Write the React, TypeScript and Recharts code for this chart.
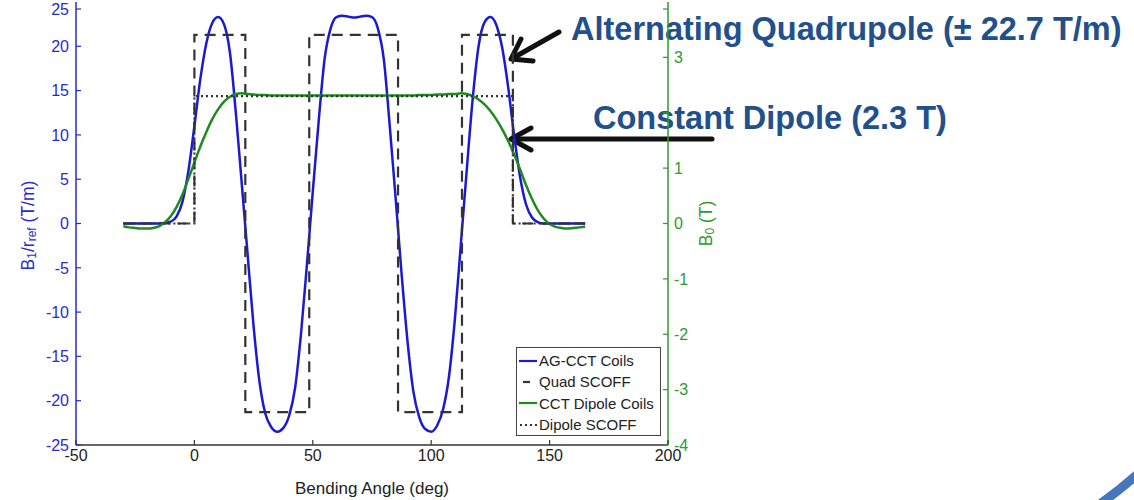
import { LineChart, Line, XAxis, YAxis, Legend } from "recharts";

// bending angle grid (deg) for the coil field profiles
const angle = [
  -30, -27.5, -25, -22.5, -20, -17.5, -15, -12.5, -10, -7.5, -5, -2.5,
  0, 2.5, 5, 7.5, 10, 12.5, 15, 17.5, 20, 22.5, 25, 27.5,
  30, 32.5, 35, 37.5, 40, 42.5, 45, 47.5, 50, 52.5, 55, 57.5,
  60, 62.5, 65, 67.5, 70, 72.5, 75, 77.5, 80, 82.5, 85, 87.5,
  90, 92.5, 95, 97.5, 100, 102.5, 105, 107.5, 110, 112.5, 115, 117.5,
  120, 122.5, 125, 127.5, 130, 132.5, 135, 137.5, 140, 142.5, 145, 147.5,
  150, 152.5, 155, 157.5, 160, 162.5, 165,
];

// AG-CCT gradient B1/rref (T/m)
const agCctCoils = [
  0, 0, 0, 0, 0, 0, 0, 0.05, 0.2, 0.8, 2.5, 6.0,
  11.0, 16.3, 20.3, 22.6, 23.3, 22.5, 19.3, 12.5, 4.5, -3.6, -11.6, -17.9,
  -21.5, -23.0, -23.5, -23.1, -21.7, -18.6, -12.5, -4.7, 3.6, 11.6, 18.6, 22.0,
  23.3, 23.45, 23.35, 23.25, 23.35, 23.45, 23.3, 22.0, 18.5, 11.0, 2.8, -5.7,
  -13.3, -19.0, -21.9, -23.2, -23.5, -22.8, -21.0, -17.3, -10.8, -2.4, 6.0, 14.0,
  20.0, 22.7, 23.3, 22.4, 19.8, 15.4, 10.0, 5.3, 2.2, 0.7, 0.15, 0,
  0, 0, 0, 0, 0, 0, 0,
];

// CCT dipole field B0 (T)
const cctDipoleCoils = [
  -0.05, -0.07, -0.08, -0.09, -0.09, -0.08, -0.05, 0.02, 0.13, 0.3, 0.53, 0.81,
  1.1, 1.39, 1.65, 1.88, 2.06, 2.2, 2.29, 2.34, 2.35, 2.34, 2.33, 2.32,
  2.32, 2.31, 2.31, 2.31, 2.31, 2.31, 2.31, 2.31, 2.31, 2.31, 2.31, 2.31,
  2.31, 2.31, 2.31, 2.31, 2.31, 2.31, 2.31, 2.31, 2.31, 2.31, 2.31, 2.31,
  2.31, 2.31, 2.32, 2.32, 2.32, 2.33, 2.33, 2.34, 2.34, 2.35, 2.34, 2.3,
  2.24, 2.15, 2.03, 1.88, 1.7, 1.49, 1.25, 0.98, 0.7, 0.45, 0.24, 0.09,
  -0.01, -0.06, -0.08, -0.09, -0.08, -0.07, -0.06,
];

// hard-edge (SCOFF) models: level holds from each edge to the next
const quadEdges = [-30, 0, 21.5, 48.5, 86, 113, 134.5, 165];
const quadLevels = [0, 21.3, -21.3, 21.3, -21.3, 21.3, 0, 0];
const dipoleEdges = [-30, 0, 134.5, 165];
const dipoleLevels = [0, 2.3, 0, 0];

const xTicks = [-50, 0, 50, 100, 150, 200];
const leftTicks = [-25, -20, -15, -10, -5, 0, 5, 10, 15, 20, 25];
const rightTicks = [-4, -3, -2, -1, 0, 1, 2, 3, 4];
// right-axis labels that sit under the callout text get no number
const rightHidden = [2, 4];

const coilData = angle.map((x, i) => ({ x, ag: agCctCoils[i], cct: cctDipoleCoils[i] }));
const quadData = quadEdges.map((x, i) => ({ x, quad: quadLevels[i] }));
const dipoleData = dipoleEdges.map((x, i) => ({ x, dipole: dipoleLevels[i] }));

const FONT = '"Liberation Sans", Arial, Helvetica, sans-serif';
const BLUE = "#1a1ad2";
const BLUE_AXIS = "#2a2ad0";
const GREEN = "#1f8a1f";
const GREEN_AXIS = "#2f9a2f";
const DARK = "#333333";
const NOTE = "#22508c";

function LeftTick({ x, y, payload }: any) {
  return (
    <g>
      <line x1={x + 7} x2={x + 12} y1={y} y2={y} stroke={BLUE_AXIS} strokeWidth={1.2} />
      <text x={x} y={y} dy="0.36em" textAnchor="end" fontSize={16} fontFamily={FONT} fill={BLUE_AXIS}>
        {payload.value}
      </text>
    </g>
  );
}

function RightTick({ x, y, payload }: any) {
  return (
    <g>
      <line x1={x - 6} x2={x - 11} y1={y} y2={y} stroke={GREEN_AXIS} strokeWidth={1.2} />
      {!rightHidden.includes(payload.value) && (
        <text x={x} y={y} dy="0.36em" textAnchor="start" fontSize={16} fontFamily={FONT} fill={GREEN_AXIS}>
          {payload.value}
        </text>
      )}
    </g>
  );
}

function BottomTick({ x, y, payload }: any) {
  return (
    <g>
      <line x1={x} x2={x} y1={y - 5} y2={y - 10} stroke={DARK} strokeWidth={1.2} />
      <text x={x} y={y} dy="0.71em" textAnchor="middle" fontSize={16} fontFamily={FONT} fill="#222">
        {payload.value}
      </text>
    </g>
  );
}

function LeftTitle({ viewBox }: any) {
  const cx = viewBox.x + 28;
  const cy = viewBox.y + viewBox.height / 2 + 2;
  return (
    <text x={cx} y={cy} transform={`rotate(-90 ${cx} ${cy})`} textAnchor="middle" dominantBaseline="central"
      fontSize={17.5} fontFamily={FONT} fill={BLUE_AXIS}>
      B<tspan fontSize={12} dy={4}>1</tspan>
      <tspan dy={-4}>/r</tspan>
      <tspan fontSize={12} dy={4}>ref</tspan>
      <tspan dy={-4}> (T/m)</tspan>
    </text>
  );
}

function RightTitle({ viewBox }: any) {
  const cx = viewBox.x + 38;
  const cy = viewBox.y + viewBox.height / 2;
  return (
    <text x={cx} y={cy} transform={`rotate(-90 ${cx} ${cy})`} textAnchor="middle" dominantBaseline="central"
      fontSize={17.5} fontFamily={FONT} fill={GREEN_AXIS}>
      B<tspan fontSize={12} dy={4}>0</tspan>
      <tspan dy={-4}> (T)</tspan>
    </text>
  );
}

function BottomTitle({ viewBox }: any) {
  const cx = viewBox.x + viewBox.width / 2;
  return (
    <text x={cx} y={viewBox.y + 43} textAnchor="middle" dominantBaseline="central"
      fontSize={17} fontFamily={FONT} fill="#222">
      Bending Angle (deg)
    </text>
  );
}

const legendRows = [
  { label: "AG-CCT Coils", color: BLUE, x1: 0, x2: 18, dash: undefined },
  { label: "Quad SCOFF", color: DARK, x1: 4, x2: 11, dash: undefined },
  { label: "CCT Dipole Coils", color: GREEN, x1: 0, x2: 18, dash: undefined },
  { label: "Dipole SCOFF", color: DARK, x1: 1, x2: 18, dash: "2 3" },
];

function LegendBox() {
  return (
    <div style={{
      width: 145, height: 89, boxSizing: "border-box", border: "1.5px solid #444", background: "#fff",
      padding: "2px 0 0 2px", fontFamily: FONT, fontSize: 15, color: "#222",
    }}>
      {legendRows.map((r) => (
        <div key={r.label} style={{ display: "flex", alignItems: "center", height: 21.3, whiteSpace: "nowrap" }}>
          <svg width={20} height={10} style={{ flex: "none" }}>
            <line x1={r.x1} x2={r.x2} y1={5} y2={5} stroke={r.color} strokeWidth={2.2} strokeDasharray={r.dash} />
          </svg>
          <span>{r.label}</span>
        </div>
      ))}
    </div>
  );
}

export default function App() {
  return (
    <div style={{ position: "absolute", left: 0, top: 0, width: 1134, height: 500, background: "#fff" }}>
      {/* callouts sit under the chart so the axis lines cross over them */}
      <svg width={1134} height={500} style={{ position: "absolute", left: 0, top: 0 }}>
        <text x={571} y={40} fontSize={32.5} fontWeight="bold" fontFamily={FONT} fill={NOTE}>
          Alternating Quadrupole (± 22.7 T/m)
        </text>
        <text x={593} y={129} fontSize={32.5} fontWeight="bold" fontFamily={FONT} fill={NOTE}>
          Constant Dipole (2.3 T)
        </text>
        <g stroke="#111" strokeWidth={5} strokeLinecap="round" strokeLinejoin="round" fill="none">
          <line x1={559} y1={32} x2={513} y2={58} />
          <polyline points="533,61 511,59 521,39" />
          <line x1={712} y1={139} x2={513} y2={139} />
          <polyline points="531,128 511,139 531,150" />
        </g>
        <path d="M1100,504 Q1120,490 1140,472" stroke="#4677bd" strokeWidth={9} fill="none" />
      </svg>
      <div style={{ position: "absolute", left: 0, top: 0 }}>
        <LineChart width={1134} height={500} data={coilData}
          margin={{ top: 2, right: 406, bottom: 5, left: 0 }}>
          <XAxis type="number" dataKey="x" domain={[-50, 200]} ticks={xTicks} allowDataOverflow
            height={50} tickSize={0} tickMargin={5} tickLine={false} tick={BottomTick}
            axisLine={{ stroke: DARK, strokeWidth: 1.5 }} label={{ content: BottomTitle }} />
          <YAxis yAxisId="left" orientation="left" domain={[-25, 25]} ticks={leftTicks} allowDataOverflow
            width={76} tickSize={0} tickMargin={7} tickLine={false} tick={LeftTick}
            axisLine={{ stroke: BLUE_AXIS, strokeWidth: 1.5 }} label={{ content: LeftTitle }} />
          <YAxis yAxisId="right" orientation="right" domain={[-4, 4]} ticks={rightTicks} allowDataOverflow
            width={60} tickSize={0} tickMargin={6} tickLine={false} tick={RightTick}
            axisLine={{ stroke: GREEN_AXIS, strokeWidth: 1.5 }} label={{ content: RightTitle }} />
          <Line yAxisId="left" dataKey="ag" name="AG-CCT Coils" type="monotone" stroke={BLUE}
            strokeWidth={2.5} dot={false} isAnimationActive={false} />
          <Line yAxisId="left" data={quadData} dataKey="quad" name="Quad SCOFF" type="stepAfter" stroke={DARK}
            strokeWidth={2.2} strokeDasharray="11 7" dot={false} isAnimationActive={false} />
          <Line yAxisId="right" dataKey="cct" name="CCT Dipole Coils" type="monotone" stroke={GREEN}
            strokeWidth={2.5} dot={false} isAnimationActive={false} />
          <Line yAxisId="right" data={dipoleData} dataKey="dipole" name="Dipole SCOFF" type="stepAfter"
            stroke={DARK} strokeWidth={2.2} strokeDasharray="2 3" dot={false} isAnimationActive={false} />
          <Legend layout="horizontal" verticalAlign="middle" align="center" content={LegendBox}
            wrapperStyle={{ left: 516, top: 347, width: 145, height: 89 }} />
        </LineChart>
      </div>
    </div>
  );
}
